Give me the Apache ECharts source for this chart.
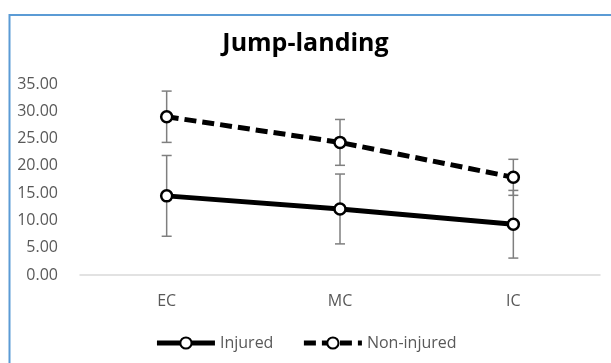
<!DOCTYPE html>
<html>
<head>
<meta charset="utf-8">
<script src="https://cdn.jsdelivr.net/npm/echarts@6/dist/echarts.min.js"></script>
<style>
html,body{margin:0;padding:0;background:#fff;}
#chart{width:611px;height:363px;}
</style>
</head>
<body>
<div id="chart"></div>
<script>
var categories = ['EC', 'MC', 'IC'];
var injuredMean = [14.5, 12.1, 9.3];
var injuredErr = [7.4, 6.4, 6.2];
var nonInjuredMean = [29.0, 24.3, 17.9];
var nonInjuredErr = [4.7, 4.2, 3.3];
var yTicks = {min: 0, max: 35, interval: 5};

var FONT = '"Open Sans", sans-serif';

function errData(mean, err) {
  return mean.map(function (m, i) { return [i, m - err[i], m + err[i]]; });
}

function renderErr(params, api) {
  var i = api.value(0);
  var lo = api.coord([i, api.value(1)]);
  var hi = api.coord([i, api.value(2)]);
  var cap = 5;
  var st = {stroke: '#7f7f7f', lineWidth: 1.5};
  return {
    type: 'group',
    children: [
      {type: 'line', shape: {x1: lo[0], y1: lo[1], x2: hi[0], y2: hi[1]}, style: st},
      {type: 'line', shape: {x1: lo[0] - cap, y1: lo[1], x2: lo[0] + cap, y2: lo[1]}, style: st},
      {type: 'line', shape: {x1: hi[0] - cap, y1: hi[1], x2: hi[0] + cap, y2: hi[1]}, style: st}
    ]
  };
}

var chart = echarts.init(document.getElementById('chart'), null, {renderer: 'canvas'});
chart.setOption({
  animation: false,
  backgroundColor: '#fff',
  graphic: [{
    type: 'rect',
    shape: {x: 9.5, y: 15, width: 700, height: 500},
    style: {fill: 'none', stroke: '#5B9BD5', lineWidth: 2},
    silent: true
  }],
  title: {
    text: 'Jump-landing',
    left: 'center',
    top: 26,
    textStyle: {fontFamily: FONT, fontWeight: 'bold', fontSize: 25, color: '#000'}
  },
  grid: {left: 80, right: 11, top: 84, bottom: 88, containLabel: false},
  legend: {
    bottom: 7,
    left: 'center',
    itemWidth: 58,
    itemHeight: 14,
    itemGap: 28,
    data: [
      {name: 'Injured', lineStyle: {width: 5}},
      {name: 'Non-injured', lineStyle: {width: 5}}
    ],
    textStyle: {fontFamily: FONT, fontSize: 16, color: '#595959'}
  },
  xAxis: {
    type: 'category',
    data: categories,
    boundaryGap: true,
    axisLine: {lineStyle: {color: '#d9d9d9', width: 1.5}},
    axisTick: {show: false},
    axisLabel: {fontFamily: FONT, fontSize: 16, color: '#595959', margin: 18}
  },
  yAxis: {
    type: 'value',
    min: yTicks.min,
    max: yTicks.max,
    interval: yTicks.interval,
    axisLine: {show: false},
    axisTick: {show: false},
    splitLine: {show: false},
    axisLabel: {
      fontFamily: FONT, fontSize: 16, color: '#595959', margin: 22,
      formatter: function (v) { return v.toFixed(2); }
    }
  },
  series: [
    {
      type: 'custom', name: 'errInjured', renderItem: renderErr,
      data: errData(injuredMean, injuredErr), z: 1, silent: true,
      encode: {x: 0, y: [1, 2]}
    },
    {
      type: 'custom', name: 'errNon', renderItem: renderErr,
      data: errData(nonInjuredMean, nonInjuredErr), z: 1, silent: true,
      encode: {x: 0, y: [1, 2]}
    },
    {
      name: 'Injured', type: 'line', data: injuredMean, z: 5,
      symbol: 'circle', symbolSize: 11,
      lineStyle: {color: '#000', width: 5, type: 'solid'},
      itemStyle: {color: '#fff', borderColor: '#000', borderWidth: 2.5}
    },
    {
      name: 'Non-injured', type: 'line', data: nonInjuredMean, z: 5,
      symbol: 'circle', symbolSize: 11,
      lineStyle: {color: '#000', width: 5, type: [12, 6]},
      itemStyle: {color: '#fff', borderColor: '#000', borderWidth: 2.5}
    }
  ]
});
</script>
</body>
</html>
